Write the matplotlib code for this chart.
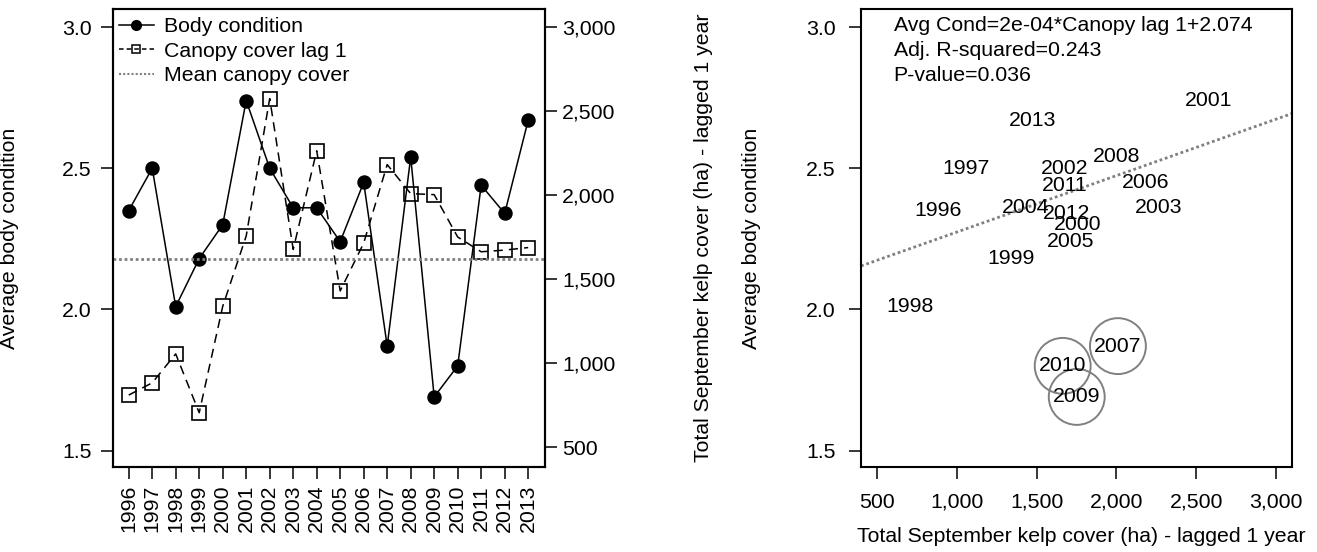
import matplotlib
matplotlib.use("Agg")
import matplotlib.pyplot as plt
from matplotlib.lines import Line2D
import numpy as np

plt.rcParams["font.family"] = ["Liberation Sans", "DejaVu Sans"]

# ---- data ----
years = list(range(1996, 2014))
body_condition = [2.35, 2.50, 2.01, 2.18, 2.30, 2.74, 2.50, 2.36, 2.36, 2.24,
                  2.45, 1.87, 2.54, 1.69, 1.80, 2.44, 2.34, 2.67]
# September kelp canopy cover (ha), 1996..2014
kelp_cover = [810, 883, 1055, 705, 1338, 1757, 2575, 1677, 2264, 1430,
              1715, 2182, 2009, 2003, 1751, 1663, 1673, 1688, 1477]
canopy_lag1_series = kelp_cover[:18]      # as drawn in the time series panel
canopy_lag1_scatter = kelp_cover[1:]      # paired with body condition in the scatter
circled_years = [2007, 2009, 2010]

fit_slope = 2e-4
fit_intercept = 2.074
adj_r2 = 0.243
p_value = 0.036

kelp_ticks = [500, 1000, 1500, 2000, 2500, 3000]
cond_ticks = [1.5, 2.0, 2.5, 3.0]

FS = 15.3
GREY = "#808080"

fig = plt.figure(figsize=(13.17, 5.52), dpi=100)
ax1 = fig.add_axes([0.0856, 0.1531, 0.3283, 0.8315])
ax2 = fig.add_axes([0.6538, 0.1531, 0.3273, 0.8315])

# ---- left panel: time series ----
ax1.plot(years, body_condition, "-", color="black", lw=1.1, marker="o",
         ms=9.4, mfc="black", mec="black", zorder=3)
ax1.set_ylim(1.44, 3.066)
ax1.set_xlim(1995.32, 2013.72)
ax1.set_yticks(cond_ticks)
ax1.set_yticklabels([f"{v:.1f}" for v in cond_ticks])
ax1.set_xticks(years)
ax1.set_xticklabels([str(y) for y in years], rotation=90)
ax1.set_ylabel("Average body condition", fontsize=FS)
ax1.yaxis.set_label_coords(-0.2167, 0.5)

ax1r = ax1.twinx()
ax1r.plot(years, canopy_lag1_series, color="black", lw=1.1, ls=(0, (6, 4)),
          marker="s", ms=9.7, mfc="none", mec="black", mew=1.2)
mean_canopy = np.mean(canopy_lag1_series)
ax1r.axhline(mean_canopy, color=GREY, lw=2, ls=(0, (1, 1)))
ax1r.set_ylim(379, 3111)
ax1r.set_yticks(kelp_ticks)
ax1r.set_yticklabels([f"{v:,}" for v in kelp_ticks])
ax1r.set_ylabel("Total September kelp cover (ha) - lagged 1 year", fontsize=FS)
ax1r.yaxis.set_label_coords(1.344, 0.5)

handles = [
    Line2D([], [], color="black", lw=1.1, marker="o", ms=7, mfc="black"),
    Line2D([], [], color="black", lw=1.1, ls=(0, (3, 2)), marker="s", ms=6,
           mfc="none", mew=1.1),
    Line2D([], [], color=GREY, lw=1.5, ls=(0, (1, 1))),
]
ax1r.legend(handles, ["Body condition", "Canopy cover lag 1", "Mean canopy cover"],
            loc="upper left", bbox_to_anchor=(0.0146, 0.9815), frameon=False,
            fontsize=FS, handlelength=1.63, handletextpad=0.49,
            labelspacing=0.27, borderaxespad=0, borderpad=0)

# ---- right panel: scatter with year labels ----
ax2.set_xlim(400, 3100)
ax2.set_ylim(1.44, 3.066)
for yr, x, y in zip(years, canopy_lag1_scatter, body_condition):
    ax2.text(x, y, str(yr), ha="center", va="center", fontsize=FS, zorder=3)
    if yr in circled_years:
        ax2.scatter([x], [y], s=1620, facecolors="none", edgecolors=GREY,
                    linewidths=1.4, zorder=2)
ax2.axline((0, fit_intercept), slope=fit_slope, color=GREY, lw=2,
           ls=(0, (1, 1)), zorder=1)
ax2.set_xticks(kelp_ticks)
ax2.set_xticklabels([f"{v:,}" for v in kelp_ticks])
ax2.set_yticks(cond_ticks)
ax2.set_yticklabels([f"{v:.1f}" for v in cond_ticks])
ax2.set_xlabel("Total September kelp cover (ha) - lagged 1 year", fontsize=FS)
ax2.xaxis.set_label_coords(0.51, -0.13)
ax2.set_ylabel("Average body condition", fontsize=FS)
ax2.yaxis.set_label_coords(-0.232, 0.5)
stats = (f"Avg Cond={fit_slope:.0e}*Canopy lag 1+{fit_intercept}\n"
         f"Adj. R-squared={adj_r2}\nP-value={p_value}")
ax2.text(0.0754, 0.9837, stats, transform=ax2.transAxes, ha="left", va="top",
         fontsize=FS, linespacing=1.39)

for a in (ax1, ax1r, ax2):
    a.tick_params(labelsize=FS, length=8.6, width=1.1, direction="out")
    for s in a.spines.values():
        s.set_linewidth(1.5)
ax1.tick_params(axis="y", pad=6.5)
ax1.tick_params(axis="x", pad=4)
ax1r.tick_params(axis="y", pad=3.5)
ax2.tick_params(axis="both", pad=9.5)

fig.savefig("out.png", dpi=100)
